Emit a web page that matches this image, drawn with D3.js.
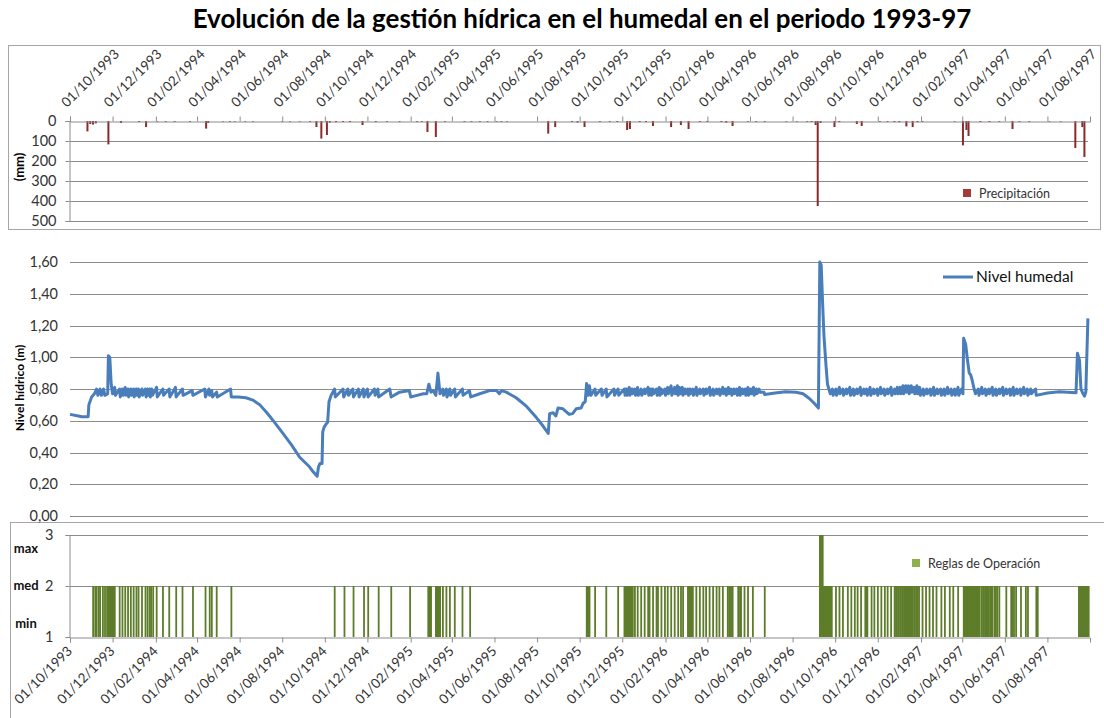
<!DOCTYPE html>
<html>
<head>
<meta charset="utf-8">
<script src="https://cdn.jsdelivr.net/npm/d3@7"></script>
<style>
  body { margin: 0; background: #fff; }
  svg text { font-family: Lato, "Open Sans", sans-serif; }
</style>
</head>
<body>
<div id="chart"></div>
<script>
// Data (days counted from 01/10/1993)
const tickLabels = ['01/10/1993','01/12/1993','01/02/1994','01/04/1994','01/06/1994','01/08/1994',
  '01/10/1994','01/12/1994','01/02/1995','01/04/1995','01/06/1995','01/08/1995',
  '01/10/1995','01/12/1995','01/02/1996','01/04/1996','01/06/1996','01/08/1996',
  '01/10/1996','01/12/1996','01/02/1997','01/04/1997','01/06/1997','01/08/1997'];

const precipTicks = [0, 100, 200, 300, 400, 500];
const nivelTicks = [0, 0.2, 0.4, 0.6, 0.8, 1.0, 1.2, 1.4, 1.6];
const reglaTicks = [1, 2, 3];
const reglaNames = ['min', 'med', 'max'];

// [day, mm]
const precipitacion = [[25,52],[29,15],[33,18],[37,12],[55,117],[73,10],[99,5],[109,30],[125,3],[137,4],
  [150,4],[172,4],[195,38],[198,10],[219,3],[229,4],[236,3],[251,3],[262,3],[304,3],[315,3],[329,3],
  [344,4],[353,30],[360,88],[368,70],[372,8],[381,6],[391,5],[401,5],[419,20],[438,5],[454,4],[472,4],
  [497,4],[504,4],[512,55],[524,80],[537,4],[565,4],[575,4],[587,4],[598,4],[611,4],[618,4],[626,3],
  [685,63],[695,30],[719,5],[727,8],[737,30],[759,4],[773,4],[784,5],[798,45],[802,40],[816,5],[825,5],
  [835,25],[861,30],[875,20],[886,40],[902,5],[913,5],[933,5],[940,8],[949,25],[971,4],[983,4],[995,4],
  [1026,3],[1041,3],[1056,4],[1062,5],[1068,20],[1071,425],[1075,10],[1095,30],[1102,5],[1127,15],
  [1134,25],[1160,4],[1171,4],[1181,5],[1188,6],[1198,27],[1207,30],[1214,6],[1221,4],[1267,3],
  [1279,122],[1284,45],[1287,75],[1304,5],[1317,5],[1331,4],[1350,40],[1360,4],[1374,4],[1403,3],
  [1419,3],[1440,135],[1450,30],[1453,180]];

// [day, m]
const nivel = [[0,0.64],[12,0.63],[17,0.625],[26,0.625],[27,0.70],[31,0.75],[35,0.77],[38,0.80],[40,0.76],
  [43,0.80],[45,0.76],[48,0.80],[50,0.76],[54,0.77],[55,1.01],[57,1.00],[59,0.83],[61,0.77],
  [64,0.81],[65,0.76],[71,0.80],[72,0.75],[75,0.80],[76,0.76],[79,0.81],[80,0.76],[83,0.80],[84,0.75],
  [87,0.80],[88,0.76],[91,0.80],[92,0.75],[95,0.80],[96,0.76],[98,0.80],[99,0.75],[103,0.80],[104,0.76],
  [108,0.80],[109,0.75],[111,0.80],[112,0.76],[114,0.80],[115,0.75],[117,0.80],[118,0.76],[124,0.81],
  [125,0.75],[133,0.80],[134,0.76],[142,0.80],[143,0.75],[151,0.81],[152,0.75],[161,0.80],[162,0.76],
  [175,0.79],[176,0.76],[193,0.80],[194,0.75],[199,0.80],[200,0.76],[203,0.79],[204,0.75],[210,0.78],
  [211,0.75],[230,0.80],[231,0.75],
  [241,0.75],[252,0.745],[262,0.73],[272,0.70],[282,0.65],[293,0.59],[305,0.52],[317,0.45],[329,0.37],
  [336,0.34],[343,0.31],[348,0.28],[354,0.25],[356,0.31],[358,0.33],[361,0.33],[362,0.53],[364,0.56],
  [367,0.58],[369,0.59],[371,0.72],[374,0.76],[379,0.80],[380,0.75],
  [391,0.80],[392,0.75],[398,0.80],[399,0.76],[405,0.80],[406,0.75],[413,0.80],[414,0.75],[420,0.80],
  [421,0.75],[426,0.80],[427,0.75],[436,0.80],[437,0.76],[441,0.80],[442,0.75],[458,0.80],[460,0.75],
  [472,0.78],[486,0.79],[488,0.75],[497,0.76],[506,0.77],[511,0.77],[514,0.83],[517,0.78],[520,0.79],
  [524,0.76],[527,0.90],[530,0.77],[534,0.80],[535,0.76],[539,0.80],[540,0.75],[544,0.80],[545,0.76],
  [551,0.80],[552,0.75],[562,0.80],[563,0.76],[572,0.79],[574,0.75],[587,0.77],[601,0.79],[611,0.79],
  [615,0.77],[618,0.79],[625,0.78],[639,0.745],[654,0.69],[668,0.62],[677,0.57],[685,0.52],
  [687,0.645],[692,0.65],[696,0.63],[699,0.68],[706,0.675],[715,0.64],[720,0.645],[725,0.675],
  [732,0.68],[735,0.71],[738,0.72],[740,0.835],[742,0.76],[744,0.82],[746,0.76],[752,0.80],[753,0.76],
  [761,0.80],[762,0.76],[768,0.80],[769,0.75],[779,0.80],[780,0.76],[785,0.80],[786,0.76],[794,0.80],
  [795,0.76],[797,0.80],[798,0.76],[801,0.81],[802,0.76],[805,0.80],[806,0.77],[809,0.80],[810,0.76],
  [813,0.81],[814,0.76],[818,0.80],[819,0.76],[823,0.80],[824,0.77],[828,0.81],[829,0.76],[832,0.80],
  [833,0.76],[835,0.80],[836,0.77],[840,0.80],[841,0.76],[844,0.81],[845,0.76],[847,0.80],[848,0.77],
  [852,0.80],[853,0.76],[856,0.81],[857,0.77],[861,0.82],[862,0.76],[866,0.81],[867,0.77],[870,0.82],
  [871,0.76],[873,0.81],[874,0.77],[877,0.81],[878,0.76],[881,0.80],[882,0.77],[885,0.80],[886,0.76],
  [888,0.80],[889,0.77],[892,0.80],[893,0.76],[897,0.81],[898,0.76],[902,0.80],[903,0.77],[907,0.80],
  [908,0.76],[911,0.80],[912,0.77],[916,0.81],[917,0.76],[921,0.80],[922,0.76],[926,0.80],[927,0.77],
  [930,0.80],[931,0.76],[935,0.81],[936,0.77],[939,0.80],[940,0.76],[943,0.81],[944,0.77],[947,0.80],
  [948,0.76],[951,0.80],[952,0.77],[955,0.80],[956,0.76],[959,0.81],[960,0.76],[963,0.80],[964,0.77],
  [967,0.80],[968,0.76],[971,0.81],[972,0.76],[975,0.80],[976,0.77],[979,0.81],[980,0.76],[983,0.80],
  [984,0.77],[987,0.80],[988,0.78],
  [994,0.78],[995,0.765],[1010,0.775],[1025,0.782],[1040,0.78],[1050,0.77],[1059,0.74],[1066,0.71],
  [1072,0.68],[1074,1.60],[1076,1.58],[1078,1.34],[1080,1.13],[1083,0.94],[1085,0.83],[1089,0.77],
  [1092,0.80],[1093,0.76],[1097,0.80],[1098,0.76],[1102,0.81],[1103,0.77],[1107,0.80],[1108,0.76],
  [1112,0.80],[1113,0.77],[1117,0.81],[1118,0.76],[1122,0.80],[1123,0.76],[1127,0.80],[1128,0.77],
  [1132,0.81],[1133,0.76],[1137,0.80],[1138,0.77],[1141,0.80],[1142,0.76],[1146,0.81],[1147,0.76],
  [1151,0.80],[1152,0.77],[1156,0.80],[1157,0.76],[1161,0.81],[1162,0.77],[1166,0.80],[1167,0.76],
  [1171,0.80],[1172,0.77],[1176,0.81],[1177,0.76],[1181,0.80],[1182,0.77],[1185,0.81],[1186,0.77],
  [1189,0.81],[1190,0.77],[1193,0.82],[1194,0.77],[1197,0.82],[1198,0.78],[1201,0.82],[1202,0.77],
  [1205,0.82],[1206,0.78],[1209,0.81],[1210,0.77],[1213,0.82],[1214,0.77],[1217,0.81],[1218,0.76],
  [1222,0.80],[1223,0.76],[1227,0.80],[1228,0.77],[1232,0.80],[1233,0.76],[1237,0.81],[1238,0.76],
  [1242,0.80],[1243,0.77],[1247,0.80],[1248,0.76],[1252,0.80],[1253,0.76],[1257,0.81],[1258,0.77],
  [1262,0.80],[1263,0.76],[1267,0.80],[1268,0.76],[1272,0.81],[1273,0.76],[1277,0.80],[1279,0.77],
  [1280,1.12],[1283,1.08],[1285,1.00],[1288,0.90],[1290,0.89],[1292,0.86],[1295,0.80],[1297,0.77],
  [1301,0.80],[1302,0.76],[1306,0.81],[1307,0.77],[1311,0.80],[1312,0.76],[1316,0.80],[1317,0.77],
  [1321,0.81],[1322,0.76],[1326,0.80],[1327,0.76],[1331,0.80],[1332,0.77],[1336,0.81],[1337,0.76],
  [1341,0.80],[1342,0.77],[1346,0.80],[1347,0.76],[1351,0.81],[1352,0.76],[1356,0.80],[1357,0.77],
  [1361,0.80],[1362,0.76],[1366,0.81],[1367,0.77],[1371,0.80],[1372,0.76],[1376,0.80],[1377,0.77],
  [1383,0.80],[1384,0.76],[1400,0.775],[1417,0.783],[1441,0.777],[1443,1.025],[1446,0.98],[1448,0.80],
  [1450,0.78],[1453,0.755],[1455,0.78],[1458,1.245]];

// Days with rule "med" (2) and "max" (3); all other days are "min" (1)
const diasMed = [33,36,38,41,43,47,50,53,54,55,56,57,58,59,60,61,62,63,64,71,75,79,83,87,91,95,98,103,108,
  111,114,116,119,124,133,142,152,161,176,194,200,203,210,231,379,393,406,421,427,442,460,487,513,514,
  515,516,517,524,525,526,527,528,529,530,534,539,544,551,562,573,740,741,743,744,752,768,785,794,795,
  796,797,798,799,800,801,802,803,804,805,806,809,813,818,823,828,830,835,840,842,847,852,856,861,866,
  871,875,878,885,886,887,888,889,890,891,892,897,902,907,911,916,921,926,930,935,942,944,946,948,949,
  957,958,960,961,966,971,978,995,1079,1080,1081,1082,1083,1084,1085,1086,1087,1088,1089,1090,1091,
  1097,1102,1107,1114,1119,1124,1128,1133,1139,1140,1141,1142,1148,1152,1157,1162,1167,1171,1176,1181,
  1183,1184,1186,1187,1189,1190,1192,1193,1195,1196,1198,1199,1201,1202,1204,1205,1207,1209,1210,1212,
  1214,1216,1221,1226,1231,1236,1241,1248,1253,1260,1265,1272,1280,1281,1282,1283,1284,1285,1286,1287,
  1288,1289,1290,1291,1292,1293,1294,1295,1296,1297,1298,1299,1300,1301,1302,1305,1306,1308,1309,1311,
  1312,1314,1316,1318,1320,1321,1324,1326,1328,1331,1341,1348,1350,1352,1355,1362,1369,1372,1384,1386,
  1445,1446,1447,1448,1449,1450,1451,1452,1453,1454,1455,1456,1457,1458,1459];
const diasMax = [1074,1075,1076,1077,1078];

// Chart
const W = 1104, H = 718;
const svg = d3.select('#chart').append('svg')
  .attr('width', W)
  .attr('height', H);

const parseDate = d3.timeParse('%d/%m/%Y');
const startDate = parseDate('01/10/1993');
const endDate = parseDate('01/10/1997');
const dayDate = d => d3.timeDay.offset(startDate, d);
const tickDates = tickLabels.map(parseDate);
const fmtDate = d3.timeFormat('%d/%m/%Y');

const x = d3.scaleTime().domain([startDate, endDate]).range([70, 1090]);
const yP = d3.scaleLinear().domain([0, 500]).range([121, 221]);
const yN = d3.scaleLinear().domain([0, 1.6]).range([516, 262]);
const yR = d3.scaleLinear().domain([1, 3]).range([637, 535]);

const esFormat = d3.formatLocale({ decimal: ',', thousands: '.', grouping: [3], currency: ['', ''] }).format('.2f');

const gridColor = '#8c8c8c';
const textColor = '#333333';

// Title
const title = svg.append('text')
  .attr('x', 582)
  .attr('y', 28)
  .attr('text-anchor', 'middle')
  .style('font-size', '21px')
  .style('font-weight', 'bold')
  .style('fill', '#000')
  .text('Evolución de la gestión hídrica en el humedal en el periodo 1993-97');
const tw = title.node().getComputedTextLength();
title.style('font-size', (21 * 779 / tw).toFixed(2) + 'px');

// Panel frames
svg.append('rect').attr('x', 8.5).attr('y', 45.5).attr('width', 1092).attr('height', 184)
  .attr('fill', 'none').attr('stroke', '#a6a6a6');
svg.append('rect').attr('x', 10.5).attr('y', 522.5).attr('width', 1100).attr('height', 210)
  .attr('fill', 'none').attr('stroke', '#a6a6a6');

// ---- Precipitation panel ----
const gP = svg.append('g');
gP.selectAll('line.grid')
  .data(precipTicks.slice(1))
  .enter().append('line')
  .attr('x1', 70).attr('x2', 1088)
  .attr('y1', d => Math.round(yP(d)) + 0.5).attr('y2', d => Math.round(yP(d)) + 0.5)
  .attr('stroke', gridColor);

const axPY = gP.append('g')
  .attr('transform', 'translate(69.5,0)')
  .call(d3.axisLeft(yP).tickValues(precipTicks).tickSize(4).tickPadding(9));
axPY.selectAll('text').style('font-size', '14.5px').style('fill', textColor);
axPY.selectAll('line, path').attr('stroke', gridColor);

gP.selectAll('rect.p')
  .data(precipitacion)
  .enter().append('rect')
  .attr('x', d => x(dayDate(d[0])) - 1)
  .attr('y', yP(0))
  .attr('width', 2)
  .attr('height', d => yP(d[1]) - yP(0))
  .attr('fill', '#8b2a2a');

const axPX = gP.append('g')
  .attr('transform', 'translate(0,121.5)')
  .call(d3.axisTop(x).tickValues(tickDates).tickSize(5).tickFormat(''));
axPX.selectAll('line, path').attr('stroke', gridColor);

gP.selectAll('text.top')
  .data(tickDates)
  .enter().append('text')
  .attr('transform', d => `translate(${x(d) - 3},108) rotate(-45)`)
  .style('font-size', '13.5px')
  .style('fill', textColor)
  .text(d => fmtDate(d));

gP.append('text')
  .attr('transform', 'translate(24,167) rotate(-90)')
  .attr('text-anchor', 'middle')
  .style('font-size', '13px')
  .style('font-weight', 'bold')
  .style('fill', '#000')
  .text('(mm)');

gP.append('rect').attr('x', 963).attr('y', 189).attr('width', 8).attr('height', 8).attr('fill', '#a33a38');
gP.append('text').attr('x', 979).attr('y', 198)
  .style('font-size', '12.5px').style('fill', textColor).text('Precipitación');

// ---- Water level panel ----
const gN = svg.append('g');
gN.selectAll('line.grid')
  .data(nivelTicks)
  .enter().append('line')
  .attr('x1', 70).attr('x2', 1088)
  .attr('y1', d => Math.round(yN(d)) + 0.5).attr('y2', d => Math.round(yN(d)) + 0.5)
  .attr('stroke', gridColor);

gN.selectAll('text.yl')
  .data(nivelTicks)
  .enter().append('text')
  .attr('x', 58)
  .attr('y', d => yN(d) + 5)
  .attr('text-anchor', 'end')
  .style('font-size', '14.5px')
  .style('fill', textColor)
  .text(d => esFormat(d));

const line = d3.line()
  .x(d => x(dayDate(d[0])))
  .y(d => yN(d[1]));

gN.append('path')
  .datum(nivel)
  .attr('fill', 'none')
  .attr('stroke', '#4a7ebb')
  .attr('stroke-width', 3)
  .attr('stroke-linejoin', 'round')
  .attr('d', line);

gN.append('text')
  .attr('transform', 'translate(24,388) rotate(-90)')
  .attr('text-anchor', 'middle')
  .style('font-size', '12px')
  .style('font-weight', 'bold')
  .style('fill', '#000')
  .text('Nivel hídrico (m)');

gN.append('line').attr('x1', 943).attr('x2', 973).attr('y1', 277).attr('y2', 277)
  .attr('stroke', '#4a7ebb').attr('stroke-width', 3);
gN.append('text').attr('x', 976).attr('y', 282)
  .style('font-size', '15.5px').style('fill', '#111').text('Nivel humedal');

// ---- Operation rules panel ----
const gR = svg.append('g');
gR.selectAll('line.grid')
  .data(reglaTicks.slice(1))
  .enter().append('line')
  .attr('x1', 70).attr('x2', 1088)
  .attr('y1', d => Math.round(yR(d)) + 0.5).attr('y2', d => Math.round(yR(d)) + 0.5)
  .attr('stroke', gridColor);

const reglas = diasMed.map(d => [d, 2]).concat(diasMax.map(d => [d, 3]));
gR.selectAll('rect.r')
  .data(reglas)
  .enter().append('rect')
  .attr('x', d => x(dayDate(d[0])) - 0.8)
  .attr('y', d => yR(d[1]))
  .attr('width', 1.8)
  .attr('height', d => yR(1) - yR(d[1]))
  .attr('fill', '#5e7d2a');

const axRY = gR.append('g')
  .attr('transform', 'translate(69.5,0)')
  .call(d3.axisLeft(yR).tickValues(reglaTicks).tickSize(4).tickPadding(12).tickFormat(d3.format('d')));
axRY.selectAll('text').style('font-size', '14.5px').style('fill', textColor);
axRY.selectAll('line, path').attr('stroke', gridColor);

gR.selectAll('text.rn')
  .data(reglaTicks)
  .enter().append('text')
  .attr('x', 26)
  .attr('y', d => [628, 590, 553][d - 1])
  .attr('text-anchor', 'middle')
  .style('font-size', '13px')
  .style('font-weight', 'bold')
  .style('fill', '#111')
  .text((d, i) => reglaNames[i]);

const axRX = gR.append('g')
  .attr('transform', 'translate(0,637.5)')
  .call(d3.axisBottom(x).tickValues(tickDates).tickSize(5).tickFormat(''));
axRX.selectAll('line, path').attr('stroke', gridColor);

gR.selectAll('text.bot')
  .data(tickDates)
  .enter().append('text')
  .attr('transform', d => `translate(${x(d) + 3},652) rotate(-45)`)
  .attr('text-anchor', 'end')
  .style('font-size', '13.5px')
  .style('fill', textColor)
  .text(d => fmtDate(d));

gR.append('rect').attr('x', 912).attr('y', 559).attr('width', 8).attr('height', 8).attr('fill', '#8db04a');
gR.append('text').attr('x', 928).attr('y', 568)
  .style('font-size', '12.5px').style('fill', textColor).text('Reglas de Operación');
</script>
</body>
</html>
